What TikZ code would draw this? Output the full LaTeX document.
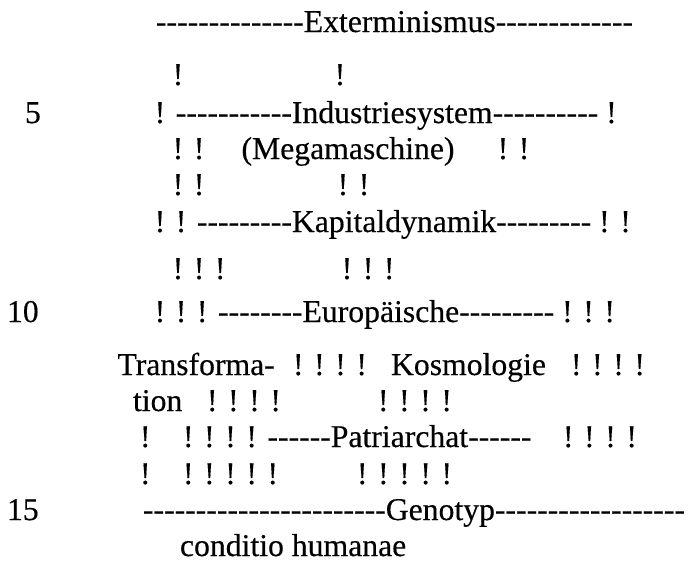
\documentclass[tikz,border=0pt]{standalone}
\usepackage{fontspec}
\setmainfont{Liberation Serif}[Ligatures=TeXOff,FakeBold=0.35]
\begin{document}
\begin{tikzpicture}[x=1pt,y=1pt,
  t/.style={inner sep=0pt,outer sep=0pt,anchor=base west,font=\fontsize{31.7}{38}\selectfont}]
\useasboundingbox (0,0) rectangle (688,-565);
% line 1
\node[t] (l1) at (156,-32) {--------------Exterminismus-------------};
% line 4
\node[t] (l4a) at (172.7,-85) {!};
\node[t] (l4b) at (334.7,-85) {!};
% line 5
\node[t] (n5) at (25,-123) {5};
\node[t] (l5) at (154.7,-123) {! -----------Industriesystem---------- !};
% line 6
\node[t] (l6a) at (172.7,-159) {! !};
\node[t] (l6b) at (241.5,-159) {(Megamaschine)};
\node[t] (l6c) at (497.7,-159) {! !};
% line 7
\node[t] (l7a) at (172.7,-195) {! !};
\node[t] (l7b) at (337.7,-195) {! !};
% line 8
\node[t] (l8) at (154.7,-232) {! ! ---------Kapitaldynamik--------- ! !};
% line 9
\node[t] (l9a) at (172.7,-279) {! ! !};
\node[t] (l9b) at (341.7,-279) {! ! !};
% line 10
\node[t] (n10) at (7,-322) {10};
\node[t] (l10) at (154.7,-322) {! ! ! --------Europäische--------- ! ! !};
% line 11
\node[t] (l11a) at (117.5,-375) {Transforma-};
\node[t] (l11b) at (293,-375) {! ! ! !};
\node[t] (l11c) at (391,-375) {Kosmologie};
\node[t] (l11d) at (571,-375) {! ! ! !};
% line 12
\node[t] (l12a) at (133,-411) {tion};
\node[t] (l12b) at (207,-411) {! ! ! !};
\node[t] (l12c) at (378,-411) {! ! ! !};
% line 13
\node[t] (l13a) at (140,-447) {!};
\node[t] (l13b) at (183,-447) {! ! ! ! ------Patriarchat------};
\node[t] (l13c) at (563,-447) {! ! ! !};
% line 14
\node[t] (l14a) at (140,-484) {!};
\node[t] (l14b) at (183,-484) {! ! ! ! !};
\node[t] (l14c) at (357,-484) {! ! ! ! !};
% line 15
\node[t] (n15) at (7,-520) {15};
\node[t] (l15) at (143,-520) {-----------------------Genotyp------------------};
% line 16
\node[t] (l16) at (180,-556) {conditio humanae};
\end{tikzpicture}
\end{document}
